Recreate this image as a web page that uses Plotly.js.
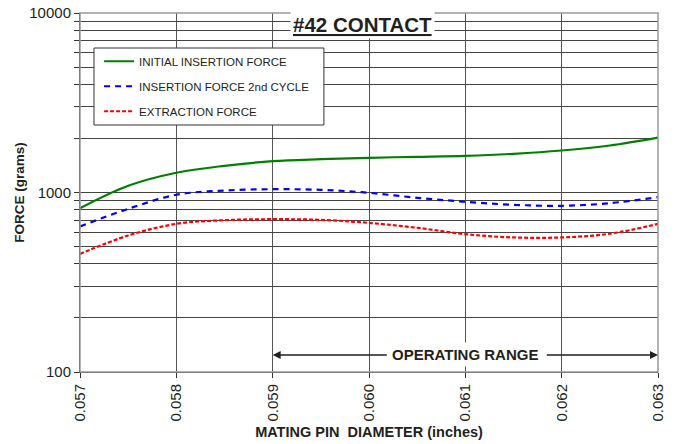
<!DOCTYPE html>
<html><head><meta charset="utf-8">
<script src="https://cdn.plot.ly/plotly-3.0.1.min.js"></script>
<style>body{margin:0;background:#fff}#c{width:677px;height:444px}</style>
</head><body><div id="c"></div>
<script>
const diameter = [0.057,0.0575,0.058,0.0585,0.059,0.0595,0.060,0.0605,0.061,0.0615,0.062,0.0625,0.063];
const initialInsertion = [817,1090,1288,1408,1494,1533,1561,1580,1601,1643,1714,1828,2024];
const insertion2nd = [647,811,971,1026,1043,1035,996,934,888,854,843,872,942];
const extraction = [455,576,669,701,710,704,677,636,586,562,562,589,669];
const seriesNames = ['INITIAL INSERTION FORCE','INSERTION FORCE 2nd CYCLE','EXTRACTION FORCE'];
const xTickVals = [0.057,0.058,0.059,0.060,0.061,0.062,0.063];
const xTickText = ['0.057','0.058','0.059','0.060','0.061','0.062','0.063'];
const yTickVals = [100,200,300,400,500,600,700,800,900,1000,2000,3000,4000,5000,6000,7000,8000,9000,10000];
const yTickText = ['100','','','','','','','','','1000','','','','','','','','','10000'];

const traces = [
 {x:diameter,y:initialInsertion,name:seriesNames[0],legendgroup:'a',mode:'lines',line:{color:'#008000',width:2.2,shape:'spline'}},
 {x:diameter,y:insertion2nd,name:seriesNames[1],legendgroup:'b',mode:'lines',line:{color:'#0000ff',width:2.2,dash:'6px,5px',shape:'spline'}},
 {x:diameter,y:extraction,name:seriesNames[2],legendgroup:'c',mode:'lines',line:{color:'#ff0000',width:2.2,dash:'4px,2px',shape:'spline'}}
];
const F = 'Liberation Sans, Arial, sans-serif';
const layout = {
 width:677,height:444,
 margin:{l:80,r:19,t:13,b:72},
 paper_bgcolor:'#fff',plot_bgcolor:'#fff',
 font:{family:F,color:'#231f20'},
 showlegend:true,
 legend:{x:0.033,y:0.906,xanchor:'left',yanchor:'top',bgcolor:'rgba(0,0,0,0)',borderwidth:0,
   font:{size:11.5,family:F,color:'#231f20'},traceorder:'grouped',tracegroupgap:6,itemwidth:30},
 xaxis:{type:'linear',range:[0.057,0.063],tickvals:xTickVals,ticktext:xTickText,tickangle:-90,
   tickfont:{size:15,family:F,color:'#231f20'},showgrid:true,gridcolor:'#555',gridwidth:1,
   ticks:'outside',ticklen:5,tickcolor:'#333',showline:true,linecolor:'#333',linewidth:1,mirror:false,zeroline:false,
   title:{text:'<b>MATING PIN  DIAMETER (inches)</b>',font:{size:14.5,family:F,color:'#231f20'},standoff:6}},
 yaxis:{type:'log',range:[2,4],tickvals:yTickVals,ticktext:yTickText,
   tickfont:{size:15,family:F,color:'#231f20'},showgrid:true,gridcolor:'#444',gridwidth:1,
   ticks:'outside',ticklen:5,tickcolor:'#333',showline:true,linecolor:'#333',linewidth:1,zeroline:false,
   title:{text:'<b>FORCE (grams)</b>',font:{size:13.5,family:F,color:'#231f20'},standoff:1}},
 shapes:[
  {type:'rect',xref:'paper',yref:'paper',x0:0,x1:1,y0:0,y1:1,line:{color:'#999',width:1.5},layer:'above'},
  {type:'rect',xref:'paper',yref:'paper',x0:0.0242,x1:0.422,y0:0.688,y1:0.9025,fillcolor:'#fff',line:{color:'#333',width:1},layer:'above'}
 ],
 annotations:[
  {xref:'paper',yref:'paper',x:0.488,y:0.969,text:'<b><u>#42 CONTACT</u></b>',showarrow:false,
   font:{size:20.5,family:F,color:'#231f20'},bgcolor:'#fff',borderpad:2,xanchor:'center',yanchor:'middle'},
  {xref:'x',yref:'y',x:0.059,y:2.095,axref:'x',ayref:'y',ax:0.0602,ay:2.095,text:'',showarrow:true,
   arrowhead:2,arrowsize:1,arrowwidth:1.6,arrowcolor:'#231f20'},
  {xref:'x',yref:'y',x:0.063,y:2.095,axref:'x',ayref:'y',ax:0.06183,ay:2.095,text:'',showarrow:true,
   arrowhead:2,arrowsize:1,arrowwidth:1.6,arrowcolor:'#231f20'},
  {xref:'x',yref:'y',x:0.061,y:2.095,text:'<b>OPERATING RANGE</b>',showarrow:false,
   font:{size:15,family:F,color:'#231f20'},bgcolor:'#fff',borderpad:3}
 ]
};
Plotly.newPlot('c',traces,layout,{displayModeBar:false,staticPlot:true});
</script></body></html>
